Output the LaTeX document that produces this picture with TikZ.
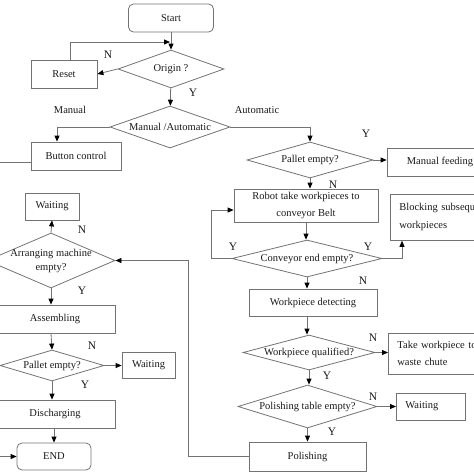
\documentclass[tikz,border=0pt]{standalone}
\usepackage{fontspec}
\setmainfont{Liberation Serif}
\usetikzlibrary{shapes.geometric,arrows.meta}
\begin{document}
\begin{tikzpicture}[x=1pt,y=-1pt,
  every node/.style={font=\fontsize{10.5}{17}\selectfont, text=black!90},
  ln/.style={draw=black!55, line width=0.8pt},
  arr/.style={ln, -{Triangle[length=6pt,width=5pt,black]}},
  box/.style 2 args={ln, minimum width=#1, minimum height=#2, inner sep=0pt, align=center},
  rbox/.style 2 args={box={#1}{#2}, rounded corners=5pt},
  lbox/.style 2 args={ln, anchor=north west, minimum height=#2, text width=#1, inner xsep=9pt, inner ysep=0pt, align=left},
  dia/.style 2 args={ln, diamond, minimum width=#1, minimum height=#2, inner sep=0pt},
  lab/.style={font=\fontsize{11.5}{12}\selectfont, inner sep=0pt}
]
\useasboundingbox (0,0) rectangle (474,474);
\clip (0,0) rectangle (474,474);

% top part
\node[rbox={85}{28}] (start) at (171,18) {Start};
\node[dia={106}{38}] (origin) at (171,69) {\makebox[0pt]{Origin ?}};
\node[box={66}{28}] (reset) at (64,74) {Reset};
\node[dia={120}{42}] (mode) at (170,127) {\makebox[0pt]{Manual /Automatic}};
\node[box={90}{28}] (button) at (76,156) {Button control};

% right column
\node[dia={126}{36}] (pal1) at (310,160) {\makebox[0pt]{Pallet empty?}};
\node[box={106}{28}] (feed) at (440,162) {Manual feeding};
\node[box={144}{33}] (robot) at (306,205.5) {Robot take workpieces to\\conveyor Belt};
\node[lbox={112pt}{46}, font=\fontsize{10.5}{18}\selectfont] (block) at (390,194) {Blocking subsequent\\workpieces};
\node[dia={150}{37}] (conv) at (307,258.5) {\makebox[0pt]{Conveyor end empty?}};
\node[box={128}{27}] (detect) at (313,302.5) {Workpiece detecting};
\node[dia={132}{35}] (qual) at (309,352.5) {\makebox[0pt]{Workpiece qualified?}};
\node[lbox={112pt}{41}] (waste) at (388,333) {Take workpiece to\\waste chute};
\node[dia={139}{43}] (polq) at (307.5,406.5) {\makebox[0pt]{Polishing table empty?}};
\node[lbox={51pt}{27}, anchor=west] (wait3) at (396,406.5) {Waiting};
\node[box={117}{29}] (polish) at (307.5,456.5) {Polishing};

% left column
\node[box={54}{27}] (wait1) at (52,206.5) {Waiting};
\node[dia={128}{55}] (arrm) at (51,260.5) {\makebox[0pt]{\fontsize{10.5}{14}\selectfont\begin{tabular}{@{}c@{}}Arranging machine\\empty?\end{tabular}}};
\node[box={120}{28}] (asm) at (55,319) {Assembling};
\node[dia={104}{31}] (pal2) at (52,365.5) {\makebox[0pt]{Pallet empty?}};
\node[box={53}{26}] (wait2) at (148.5,365) {Waiting};
\node[box={120}{28}] (dis) at (55,414) {Discharging};
\node[rbox={74}{27}] (end) at (54,456.5) {END};

% connectors: top
\draw[arr] (start) -- (origin);
\draw[arr] (origin.west) -- (reset.east);
\coordinate (j1) at (171,42);
\draw[arr] ([xshift=6pt]reset.north) |- ([xshift=-1pt]j1);
\draw[arr] (origin) -- (mode);
\draw[arr] (mode.west) -| ([xshift=-19pt]button.north);
\draw[arr] ([yshift=-6pt]button.west) -- ++(-40,0) |- (end.west);
\draw[arr] (mode.east) -| (pal1.north);

% right column
\draw[arr] (pal1.east) -- (pal1.east -| feed.west);
\draw[arr] (pal1.south) -- (pal1.south |- robot.north);
\draw[arr] (robot.south) -- (robot.south |- conv.north);
\draw[arr] (conv.west) -- ++(-20,0) |- ([yshift=-4.5pt]robot.west);
\draw[arr] (conv.east) -| ([xshift=12pt]block.south west);
\draw[arr] (conv.south) -- (conv.south |- detect.north);
\draw[arr] (conv.south |- detect.south) -- (conv.south |- qual.north);
\draw[arr] (qual.east) -- (qual.east -| waste.west);
\draw[arr] (qual.south) -- (qual.south |- polq.north);
\draw[arr] (polq.east) -- (polq.east -| wait3.west);
\draw[arr] (polq.south) -- (polq.south |- polish.north);
\draw[arr] (polish.west) -- ++(-60,0) |- (arrm.east);

% left column
\draw[arr] (arrm.north) -- (wait1.south);
\draw[arr] (arrm.south) -- (arrm.south |- asm.north);
\draw[arr] (arrm.south |- asm.south) -- (pal2.north);
\draw[arr] (pal2.east) -- (pal2.east -| wait2.west);
\draw[arr] (pal2.south) -- (pal2.south |- dis.north);
\draw[arr] (end.north |- dis.south) -- (end.north);

% labels
\node[lab] (l1) at (108,55) {N};
\node[lab] (l2) at (193,93) {Y};
\node (l3) at (70,110) {Manual};
\node (l4) at (257,110) {Automatic};
\node[lab] (l5) at (366,134) {Y};
\node[lab] (l6) at (333,185) {N};
\node[lab] (l7) at (233,247) {Y};
\node[lab] (l8) at (368,247) {Y};
\node[lab] (l9) at (363,281) {N};
\node[lab] (l10) at (373,338) {N};
\node[lab] (l11) at (327,376) {Y};
\node[lab] (l12) at (373,397) {N};
\node[lab] (l13) at (332,432) {Y};
\node[lab] (l14) at (82,230) {N};
\node[lab] (l15) at (82,291) {Y};
\node[lab] (l16) at (92,346) {N};
\node[lab] (l17) at (85,385) {Y};
\end{tikzpicture}
\end{document}
